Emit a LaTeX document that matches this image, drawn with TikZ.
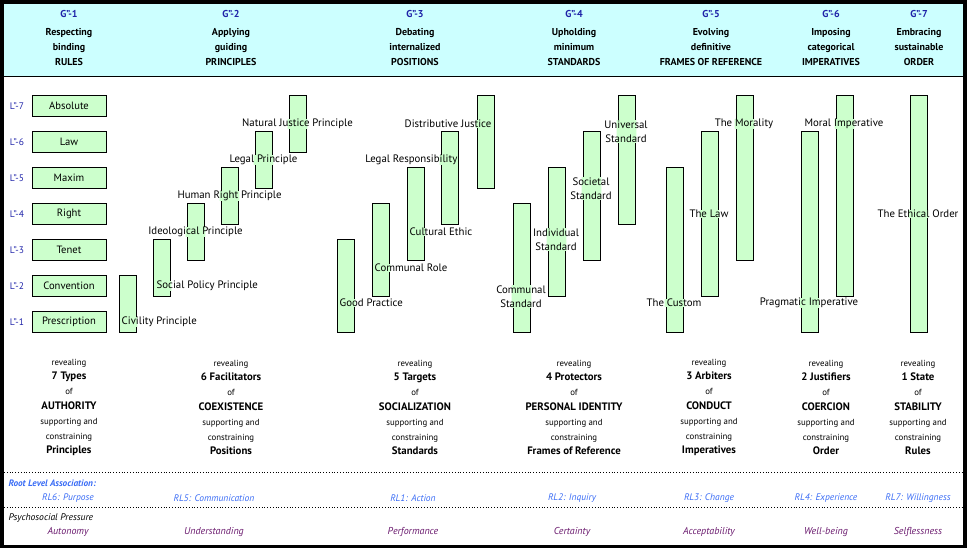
\documentclass[tikz,border=0pt]{standalone}
\usepackage{fontspec}
\setmainfont{PT Sans}
\usetikzlibrary{positioning}

\definecolor{headcyan}{HTML}{CCFFFF}
\definecolor{barfill}{HTML}{CCFFCC}
\definecolor{gblue}{HTML}{1E22A8}
\definecolor{rlblue}{HTML}{3A6CF5}
\definecolor{prpurple}{HTML}{6A1A6E}

\newcommand{\smallline}[1]{{\fontsize{8.8}{14.8}\selectfont #1}}
\newcommand{\boldline}[1]{{\bfseries\fontsize{10.8}{14.8}\selectfont #1}}

\tikzset{
  levelbox/.style={draw, line width=0.8pt, fill=barfill, minimum width=74pt, minimum height=21pt,
    inner sep=0pt, font=\fontsize{10.6}{12}\selectfont},
  levelbar/.style={draw, line width=0.8pt, fill=barfill, minimum width=17pt, inner sep=0pt},
  levelname/.style={text=gblue, font=\fontsize{9.5}{10}\selectfont},
  gtag/.style={text=gblue, font=\bfseries\fontsize{10}{10}\selectfont},
  head/.style={align=center, font=\bfseries\fontsize{10}{15}\selectfont},
  tail/.style={align=center, font=\fontsize{8.8}{14.8}\selectfont},
  rootlbl/.style={text=rlblue, font=\itshape\fontsize{9.5}{10}\selectfont},
  presslbl/.style={text=prpurple, font=\itshape\fontsize{10}{10}\selectfont}
}

\begin{document}
\begin{tikzpicture}[x=1pt, y=-1pt]
  \useasboundingbox (0,0) rectangle (967,549);

  % heading band and frame
  \fill[headcyan] (3,3) rectangle (964,76);
  \draw[line width=0.8pt] (3,76) -- (964,76);
  \draw[line width=3.5pt] (2,1.75) rectangle (964.75,546.5);

  % column headings
  \foreach \x/\g/\a/\b/\c in {69/1/Respecting/binding/RULES,
      231/2/Applying/guiding/PRINCIPLES, 415/3/Debating/internalized/POSITIONS,
      574/4/Upholding/minimum/STANDARDS, 711/5/Evolving/definitive/FRAMES OF REFERENCE,
      831/6/Imposing/categorical/IMPERATIVES, 919/7/Embracing/sustainable/ORDER}{
    \node[gtag] (g\g) at (\x,14) {G"-\g};
    \node[head] (h\g) at (\x,47) {\a\\\b\\\c};
  }

  % levels and the seven types
  \foreach \k/\word in {1/Prescription, 2/Convention, 3/Tenet, 4/Right,
      5/Maxim, 6/Law, 7/Absolute}{
    \node[levelname] (lv\k) at (17,{322-36*(\k-1)}) {L"-\k};
    \node[levelbox] (box\k) at (69,{322-36*(\k-1)}) {\word};
  }

  % the bars, from lowest to highest level
  \foreach \n/\x/\lo/\hi in {civ/119/1/2, soc/153/2/3, ideo/187/3/4, hum/221/4/5,
      legp/255/5/6, nat/289/6/7,
      good/337/1/3, comm/372/2/4, cult/407/3/5, legr/441/4/6, dist/477/5/7,
      cstd/513/1/4, istd/548/2/5, sstd/583/3/6, ustd/618/4/7,
      cust/666/1/5, law/701/2/6, mor/736/3/7,
      prag/801/1/6, mimp/836/2/7,
      eth/910/1/7}{
    \pgfmathsetmacro\ytop{322-36*(\hi-1)-10.5}
    \pgfmathsetmacro\ybot{322-36*(\lo-1)+10.5}
    \node[levelbar, minimum height={\ybot-\ytop}] (\n) at ({\x+8.5},{(\ytop+\ybot)/2}) {};
  }

  % bar labels (the bar border is cut where the text crosses it)
  \foreach \n/\a/\x/\y/\t in {civ/west/121/322/Civility Principle,
      soc/west/156/286/Social Policy Principle,
      ideo/center/195.5/232/Ideological Principle,
      hum/center/229.5/196/Human Right Principle,
      legp/center/263.5/160/Legal Principle,
      nat/center/297.5/124/Natural Justice Principle,
      good/west/339/303/Good Practice,
      comm/west/374/268/Communal Role,
      cult/west/409/232/Cultural Ethic,
      legr/east/458/160/Legal Responsibility,
      dist/east/492/124/Distributive Justice,
      cstd/center/521/296.5/Communal\\Standard,
      istd/center/556/239.5/Individual\\Standard,
      sstd/center/591/188.5/Societal\\Standard,
      ustd/center/626/131.5/Universal\\Standard,
      cust/center/674/303/The Custom,
      law/center/709/214/The Law,
      mor/center/744/124/The Morality,
      prag/center/809/303/Pragmatic Imperative,
      mimp/center/844/124/Moral Imperative,
      eth/center/918/214/The Ethical Order}{
    \node[anchor=\a, align=center, inner sep=0.5pt, font=\fontsize{10.8}{14.5}\selectfont,
      path picture={
        \clip ([xshift=-1pt]\n.south west) rectangle ([xshift=1pt]\n.north east);
        \fill[barfill] (path picture bounding box.south west) rectangle
          (path picture bounding box.north east);
      }] (t-\n) at (\x,\y) {\t};
  }

  % what each column reveals
  \foreach \c/\x/\num/\what/\topic in {1/69/7 Types/AUTHORITY/Principles,
      2/231/6 Facilitators/COEXISTENCE/Positions,
      3/415/5 Targets/SOCIALIZATION/Standards,
      4/574/4 Protectors/PERSONAL IDENTITY/Frames of Reference,
      5/709/3 Arbiters/CONDUCT/Imperatives,
      6/826/2 Justifiers/COERCION/Order,
      7/918/1 State/STABILITY/Rules}{
    \node[tail] (rev\c) at (\x,407.5) {\smallline{revealing}\\\boldline{\num}\\of\\
      \boldline{\what}\\supporting and\\constraining\\\boldline{\topic}};
  }

  % root levels and pressures
  \draw[dotted, line width=0.8pt] (4,472) -- (963,472);
  \draw[dotted, line width=0.8pt] (4,507) -- (963,507);
  \node[rootlbl, anchor=west, font=\bfseries\itshape\fontsize{9.3}{10}\selectfont] (rla) at (5,483)
    {Root Level Association:};
  \node[anchor=west, font=\itshape\fontsize{9.6}{10}\selectfont] (psp) at (5,518)
    {Psychosocial Pressure};
  \foreach \c/\x/\rl/\pr in {1/68/RL6: Purpose/Autonomy, 2/214/RL5: Communication/Understanding,
      3/413/RL1: Action/Performance, 4/572/RL2: Inquiry/Certainty,
      5/709/RL3: Change/Acceptability, 6/826/RL4: Experience/Well-being,
      7/918/RL7: Willingness/Selflessness}{
    \node[rootlbl] (rl\c) at (\x,498) {\rl};
    \node[presslbl] (pr\c) at (\x,532) {\pr};
  }
\end{tikzpicture}
\end{document}
